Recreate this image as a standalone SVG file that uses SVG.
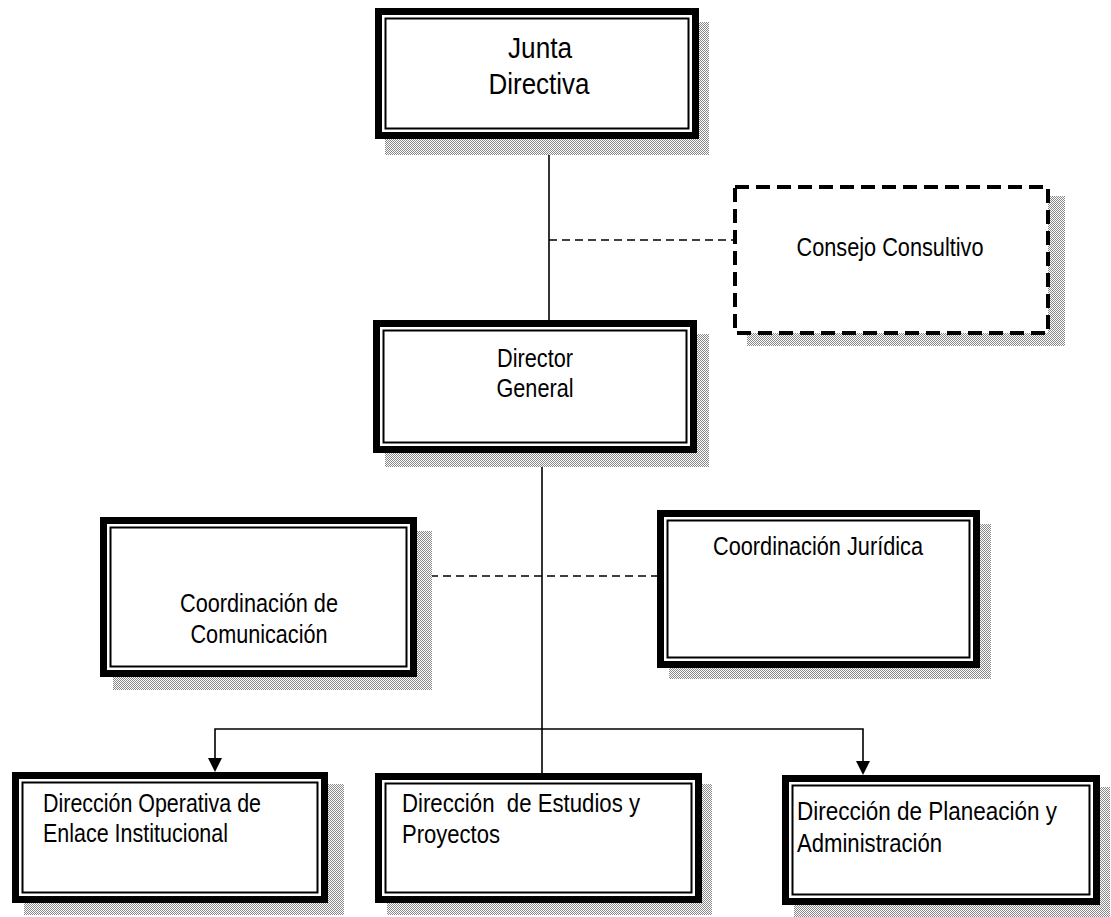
<svg xmlns="http://www.w3.org/2000/svg" width="1111" height="917" viewBox="0 0 1111 917">
<style>
.sh{fill:url(#dots)}
.box{fill:#fff;stroke:#000;stroke-width:7}
.inn{fill:none;stroke:#000;stroke-width:2}
.dbox{fill:#fff;stroke:#000;stroke-width:4;stroke-dasharray:14 7}
.t{font-family:"Liberation Sans",Arial,sans-serif;font-size:26px;fill:#000}
.c{text-anchor:middle}
.big{font-size:30px}
.ln{stroke:#000;stroke-width:1.6;fill:none}
.dl{stroke:#000;stroke-width:1.6;fill:none;stroke-dasharray:8 5}
.ah{fill:#000}
</style>
<defs>
<pattern id="dots" width="2" height="2" patternUnits="userSpaceOnUse">
<rect width="2" height="2" fill="#fff"/>
<rect width="1" height="1" fill="#888"/>
<rect x="1" y="1" width="1" height="1" fill="#888"/>
</pattern>
</defs>
<rect width="1111" height="917" fill="#fff"/>

<g id="connectors">
<line class="ln" x1="549" y1="139" x2="549" y2="322"/>
<line class="dl" x1="549" y1="240" x2="733" y2="240"/>
<line class="ln" x1="542" y1="453" x2="542" y2="773"/>
<line class="dl" x1="417" y1="576" x2="657" y2="576"/>
<path class="ln" d="M215 759 V729 H863 V762"/>
<polygon class="ah" points="208,758 222,758 215,772"/>
<polygon class="ah" points="856,761 870,761 863,775"/>
</g>

<g id="junta">
<rect class="sh" x="385" y="22" width="324" height="133"/>
<rect class="box" x="378.5" y="11.5" width="317" height="124"/>
<rect class="inn" x="385.5" y="18.5" width="303" height="110"/>
<text class="t big c" x="540" y="58" textLength="64" lengthAdjust="spacingAndGlyphs">Junta</text>
<text class="t big c" x="539" y="94" textLength="101" lengthAdjust="spacingAndGlyphs">Directiva</text>
</g>

<g id="consejo">
<rect class="sh" x="747" y="196" width="318" height="150"/>
<rect class="dbox" x="735" y="187" width="313" height="146"/>
<text class="t c" x="890" y="256" textLength="187" lengthAdjust="spacingAndGlyphs">Consejo Consultivo</text>
</g>

<g id="director">
<rect class="sh" x="385" y="334" width="324" height="133"/>
<rect class="box" x="376.5" y="323.5" width="317" height="126"/>
<rect class="inn" x="383.5" y="330.5" width="303" height="112"/>
<text class="t c" x="535" y="367" textLength="76" lengthAdjust="spacingAndGlyphs">Director</text>
<text class="t c" x="535" y="397" textLength="77" lengthAdjust="spacingAndGlyphs">General</text>
</g>

<g id="comunicacion">
<rect class="sh" x="113" y="531" width="319" height="159"/>
<rect class="box" x="103.5" y="520.5" width="310" height="153"/>
<rect class="inn" x="110.5" y="527.5" width="296" height="139"/>
<text class="t c" x="259" y="612" textLength="158" lengthAdjust="spacingAndGlyphs">Coordinación de</text>
<text class="t c" x="259" y="643" textLength="137" lengthAdjust="spacingAndGlyphs">Comunicación</text>
</g>

<g id="juridica">
<rect class="sh" x="669" y="524" width="322" height="155"/>
<rect class="box" x="660.5" y="513.5" width="316" height="151"/>
<rect class="inn" x="667.5" y="520.5" width="302" height="137"/>
<text class="t c" x="818" y="555" textLength="210" lengthAdjust="spacingAndGlyphs">Coordinación Jurídica</text>
</g>

<g id="operativa">
<rect class="sh" x="24" y="784" width="320" height="131"/>
<rect class="box" x="15.5" y="775.5" width="309" height="124"/>
<rect class="inn" x="22.5" y="782.5" width="295" height="110"/>
<text class="t" x="43" y="812" textLength="218" lengthAdjust="spacingAndGlyphs">Dirección Operativa de</text>
<text class="t" x="43" y="842" textLength="185" lengthAdjust="spacingAndGlyphs">Enlace Institucional</text>
</g>

<g id="estudios">
<rect class="sh" x="387" y="784" width="325" height="131"/>
<rect class="box" x="378.5" y="776.5" width="320" height="123"/>
<rect class="inn" x="385.5" y="783.5" width="306" height="109"/>
<text class="t" x="402" y="812" textLength="238" lengthAdjust="spacingAndGlyphs" xml:space="preserve">Dirección  de Estudios y</text>
<text class="t" x="402" y="843" textLength="98" lengthAdjust="spacingAndGlyphs">Proyectos</text>
</g>

<g id="planeacion">
<rect class="sh" x="794" y="787" width="316" height="130"/>
<rect class="box" x="785.5" y="778.5" width="311" height="123"/>
<rect class="inn" x="792.5" y="785.5" width="297" height="109"/>
<text class="t" x="797" y="820" textLength="260" lengthAdjust="spacingAndGlyphs">Dirección de Planeación y</text>
<text class="t" x="797" y="852" textLength="145" lengthAdjust="spacingAndGlyphs">Administración</text>
</g>
</svg>
